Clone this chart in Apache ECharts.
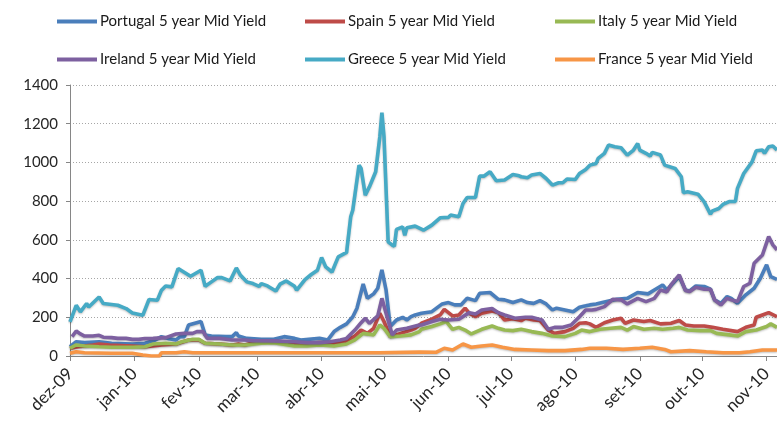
<!DOCTYPE html>
<html lang="pt">
<head>
    <meta charset="UTF-8">
    <title>5 year Mid Yield</title>
    <script src="https://cdnjs.cloudflare.com/ajax/libs/echarts/6.0.0/echarts.min.js"></script>
    <style>
        * { margin: 0; padding: 0; box-sizing: border-box; }
        body { background: #fff; }
        #chart { width: 777px; height: 424px; }
    </style>
</head>
<body>
    <div id="chart"></div>

    <script>
        // dias contados a partir de 1 dez 2009
        const seriesNames = ['Portugal 5 year Mid Yield', 'Spain 5 year Mid Yield', 'Italy 5 year Mid Yield',
                             'Ireland 5 year Mid Yield', 'Greece 5 year Mid Yield', 'France 5 year Mid Yield'];
        const monthLabels = ['jan', 'fev', 'mar', 'abr', 'mai', 'jun', 'jul', 'ago', 'set', 'out', 'nov', 'dez'];
        const yTicks = [0, 1400, 200];

        const portugalDays = [0,3,7,14,20,30,36,41,44,47,51,53,55,57,60,63,65,68,75,78,80,81,85,92,98,103,108,111,120,124,127,130,133,136,138,141,143,146,148,150,152,154,157,160,162,164,166,169,174,179,182,185,188,191,195,197,202,206,209,213,217,220,223,226,229,232,234,238,242,245,248,250,253,258,263,268,273,278,281,285,287,290,293,296,298,301,305,308,310,313,316,318,321,325,329,332,335,337,340];
        const portugalYield = [48,74,69,74,66,62,66,83,100,91,83,100,100,160,169,178,109,103,100,100,121,103,91,86,86,100,91,83,91,83,126,148,166,203,247,372,298,321,350,445,341,152,186,200,186,203,212,221,229,269,276,264,264,298,286,324,328,293,290,276,290,276,272,286,269,238,247,238,229,252,259,264,269,281,293,298,328,321,341,367,341,376,410,341,336,362,359,345,290,272,307,298,272,316,350,402,471,410,396];

        const spainDays = [0,4,11,14,19,30,36,40,44,51,57,62,65,72,78,81,84,92,98,108,114,120,127,133,137,140,143,146,149,151,154,159,164,166,169,174,178,180,184,187,190,192,195,198,203,206,209,213,217,219,223,226,230,233,238,242,245,248,250,253,257,261,265,267,271,276,279,284,289,293,296,300,305,309,314,321,325,329,330,333,336,340];
        const spainYield = [40,48,57,62,57,52,48,52,57,62,83,83,66,62,57,62,57,79,74,66,66,69,66,78,103,134,117,143,221,178,100,117,134,143,169,190,212,241,207,212,247,221,203,221,233,224,186,193,183,195,186,183,134,117,126,143,169,172,166,148,172,186,195,169,186,178,183,166,169,183,160,155,155,148,138,126,148,160,200,212,224,203];

        const italyDays = [0,3,7,14,20,30,36,40,46,51,54,59,62,65,72,78,84,92,98,108,114,120,127,133,137,141,146,149,151,154,159,164,168,169,174,178,181,184,187,190,193,198,203,206,209,213,217,222,227,232,238,243,246,250,255,260,265,268,271,276,281,285,290,293,297,303,308,311,317,321,325,330,335,337,340];
        const italyYield = [40,57,52,48,45,45,48,62,66,62,74,86,86,66,62,57,57,66,69,52,52,57,52,62,83,117,109,160,143,100,103,109,126,138,152,166,178,138,148,134,114,138,155,143,134,131,138,126,117,103,100,117,134,126,138,143,148,134,152,138,143,138,143,148,134,131,131,117,109,103,126,134,152,166,148];

        const irelandDays = [1,3,5,7,11,14,16,20,23,27,30,33,36,40,46,51,55,59,61,64,66,72,78,84,88,98,108,114,120,125,130,133,137,140,142,144,148,150,152,155,157,162,168,169,174,178,182,187,192,195,198,203,206,209,214,219,222,227,230,233,237,241,245,248,251,253,257,261,265,268,273,277,281,284,287,289,293,296,298,301,305,308,310,313,316,318,321,324,327,329,333,336,338,340];
        const irelandYield = [100,129,114,103,103,107,97,95,91,91,86,86,90,91,95,114,117,117,126,126,91,91,83,83,79,78,74,69,69,74,83,91,134,172,195,169,207,298,221,109,134,143,160,160,178,190,186,190,224,217,238,245,224,212,195,200,200,186,138,148,148,160,203,238,238,241,255,293,290,269,298,281,298,341,331,367,419,338,333,355,345,345,290,264,298,290,281,359,376,479,522,617,574,548];

        const greeceDays = [0,3,5,8,9,14,16,23,27,30,35,38,42,44,46,49,52,58,63,65,68,71,73,77,80,82,85,88,91,92,95,99,101,104,108,109,113,116,119,121,123,126,128,129,133,135,136,139,140,142,144,147,149,150,151,153,155,156,157,160,161,162,166,170,174,178,182,183,187,189,191,195,197,199,202,205,209,213,216,217,220,222,226,229,232,235,237,239,243,245,248,250,253,254,257,259,262,265,268,271,273,274,277,279,280,284,286,291,294,295,297,302,305,308,309,312,314,317,320,321,324,328,330,333,334,336,338,340];
        const greeceYield = [176,262,228,271,253,305,271,262,245,222,210,292,288,340,362,357,452,412,443,360,383,405,405,388,455,417,383,374,360,374,362,336,371,388,360,340,395,421,443,509,460,434,486,512,535,719,754,986,969,831,874,952,1133,1257,1133,590,573,567,654,667,624,662,671,650,676,714,716,728,719,788,819,819,929,929,952,905,909,938,931,926,921,935,943,917,883,895,895,914,912,943,964,986,995,1021,1047,1090,1081,1076,1038,1064,1098,1064,1047,1033,1052,1038,986,969,926,843,848,836,796,733,750,762,783,798,798,866,943,1003,1060,1064,1047,1081,1085,1064];

        const franceDays = [0,3,7,20,30,35,39,43,44,51,55,59,84,120,149,168,176,180,184,189,193,198,203,208,214,222,230,238,246,250,258,266,274,280,286,289,298,306,314,322,327,333,340];
        const franceYield = [14,22,17,14,14,5,0,0,17,17,22,17,17,17,17,20,19,40,31,62,45,52,57,45,34,31,28,28,34,40,40,34,40,45,34,22,28,22,17,17,22,31,31];

        const colors = ['#4A7EBB', '#BE4B48', '#98B954', '#7D60A0', '#46AAC5', '#F79646'];
        const FONT = 'Lato, "Open Sans", sans-serif';
        const DAY = 86400000;
        const START = new Date(2009, 11, 1).getTime();

        function toPoints(days, vals) {
            return days.map((d, i) => [START + d * DAY, vals[i]]);
        }

        const allData = [
            toPoints(portugalDays, portugalYield),
            toPoints(spainDays, spainYield),
            toPoints(italyDays, italyYield),
            toPoints(irelandDays, irelandYield),
            toPoints(greeceDays, greeceYield),
            toPoints(franceDays, franceYield)
        ];

        // legenda em 2 linhas x 3 colunas
        const legendLeft = [57, 305, 555];
        const legendTop = [14, 52];
        const legends = seriesNames.map((name, i) => ({
            data: [name],
            left: legendLeft[i % 3],
            top: legendTop[Math.floor(i / 3)],
            icon: 'rect',
            itemWidth: 40,
            itemHeight: 4,
            itemGap: 0,
            padding: 0,
            selectedMode: false,
            textStyle: { fontFamily: FONT, fontSize: 15, color: '#1a1a1a', padding: [0, 0, 0, -2] }
        }));

        const chart = echarts.init(document.getElementById('chart'));
        chart.setOption({
            animation: false,
            color: colors,
            legend: legends,
            grid: { left: 70, right: 0, top: 85, bottom: 68 },
            xAxis: {
                type: 'time',
                min: START,
                max: START + 340 * DAY,
                splitNumber: 12,
                minInterval: 28 * DAY,
                maxInterval: 31 * DAY,
                axisLine: { lineStyle: { color: '#868686', width: 1 } },
                axisTick: { show: true, length: 5, lineStyle: { color: '#868686' } },
                splitLine: { show: false },
                axisLabel: {
                    rotate: 45,
                    margin: 15,
                    fontFamily: FONT,
                    fontSize: 17,
                    color: '#262626',
                    showMaxLabel: false,
                    formatter: (val) => {
                        const d = new Date(val);
                        return monthLabels[d.getMonth()] + '-' + String(d.getFullYear()).slice(2);
                    }
                }
            },
            yAxis: {
                type: 'value',
                min: yTicks[0],
                max: yTicks[1],
                interval: yTicks[2],
                axisLine: { show: true, lineStyle: { color: '#868686' } },
                axisTick: { show: true, length: 4, lineStyle: { color: '#868686' } },
                splitLine: { lineStyle: { color: '#a6a6a6', type: [1, 2] } },
                axisLabel: { fontFamily: FONT, fontSize: 15, color: '#262626', margin: 12, formatter: (v) => String(v) }
            },
            series: seriesNames.map((name, i) => ({
                name: name,
                type: 'line',
                data: allData[i],
                symbol: 'none',
                z: 2 + i,
                lineStyle: {
                    width: 3.6,
                    color: colors[i],
                    shadowColor: 'rgba(0,0,0,0.25)',
                    shadowBlur: 2,
                    shadowOffsetY: 1
                }
            }))
        });
    </script>
</body>
</html>
